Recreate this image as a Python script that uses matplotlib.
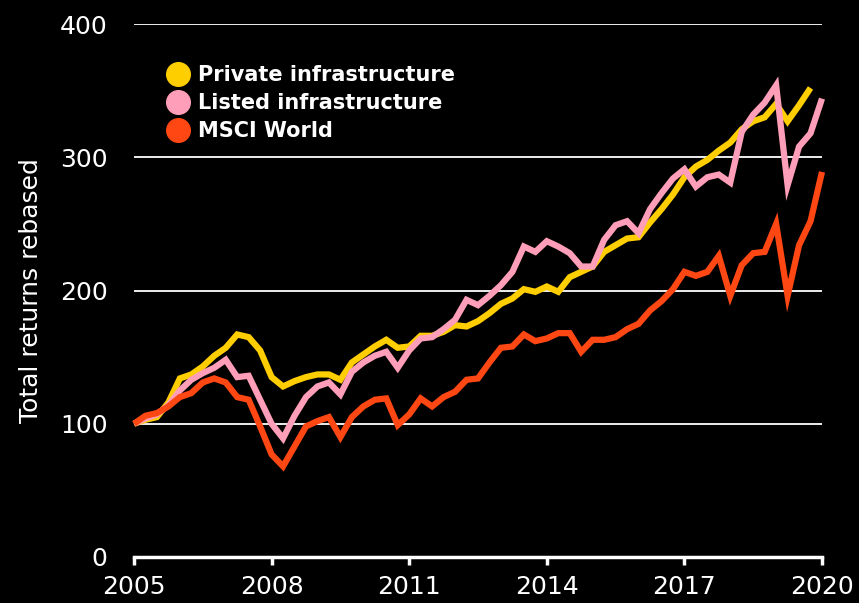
import matplotlib
matplotlib.use("Agg")
import matplotlib.pyplot as plt
import numpy as np
from matplotlib.lines import Line2D

# quarterly data, 2005 Q1 .. 2020 Q1
start_year = 2005
private_infra = [100, 103, 105, 116, 134, 137, 143, 151, 157, 167, 165, 155, 135, 128, 132, 135,
                 137, 137, 133, 146, 152, 158, 163, 157, 158, 166, 166, 169, 174, 173, 177, 183,
                 190, 194, 201, 199, 203, 199, 210, 214, 218, 229, 234, 239, 240, 251, 261, 272,
                 285, 293, 298, 305, 311, 321, 327, 330, 340, 327, 339, 352]
listed_infra = [100, 104, 107, 114, 125, 133, 138, 142, 148, 135, 136, 118, 100, 89, 106, 120,
                128, 131, 122, 139, 146, 151, 154, 142, 155, 164, 165, 171, 178, 193, 189, 196,
                204, 214, 233, 229, 237, 233, 228, 218, 218, 238, 249, 252, 243, 261, 273, 284,
                291, 278, 285, 287, 281, 319, 332, 341, 354, 279, 308, 318, 344]
msci_world = [100, 106, 108, 113, 120, 123, 131, 134, 131, 120, 118, 98, 77, 68, 83, 98,
              102, 105, 90, 105, 113, 118, 119, 99, 107, 119, 113, 120, 124, 133, 134, 146,
              157, 158, 167, 162, 164, 168, 168, 154, 163, 163, 165, 171, 175, 185, 192, 201,
              214, 211, 214, 226, 196, 219, 228, 229, 250, 196, 234, 252, 289]

series_names = ["Private infrastructure", "Listed infrastructure", "MSCI World"]
series_colors = ["#FFCE00", "#FF9EB8", "#FF4713"]
x_ticks = [2005, 2008, 2011, 2014, 2017, 2020]
y_ticks = [0, 100, 200, 300, 400]

def qx(vals):
    return start_year + np.arange(len(vals)) / 4.0

fig = plt.figure(figsize=(8.59, 6.03), dpi=100, facecolor="black")
ax = fig.add_axes([134/859, 46/603, 688/859, 533/603], facecolor="black")

for y in y_ticks[1:]:
    ax.axhline(y, color="white", lw=1.3, zorder=1)

for vals, col in zip([private_infra, listed_infra, msci_world], series_colors):
    ax.plot(qx(vals), vals, color=col, lw=4.5, solid_joinstyle="miter", solid_capstyle="butt",
            zorder=3, clip_on=False)

ax.set_xlim(2005, 2020)
ax.set_ylim(0, 400)
for s in ["top", "right", "left"]:
    ax.spines[s].set_visible(False)
ax.spines["bottom"].set_color("white")
ax.spines["bottom"].set_linewidth(2.5)
ax.set_xticks(x_ticks)
ax.set_yticks(y_ticks)
ax.tick_params(axis="x", colors="white", length=6, width=2.5, pad=7, labelsize=18)
ax.tick_params(axis="y", colors="white", length=0, pad=19, labelsize=18)
ax.set_ylabel("Total returns rebased", color="white", fontsize=18, labelpad=12)

handles = [Line2D([], [], marker="o", linestyle="none", markersize=17,
                  markerfacecolor=c, markeredgecolor=c) for c in series_colors]
leg = ax.legend(handles, series_names, loc="upper left", bbox_to_anchor=(0.034, 0.938),
                frameon=False, handlelength=1.2, handletextpad=0.36, labelspacing=0.37,
                borderaxespad=0, prop={"weight": "bold", "size": 15})
for t in leg.get_texts():
    t.set_color("white")

fig.savefig("out.png", dpi=100, facecolor="black")
